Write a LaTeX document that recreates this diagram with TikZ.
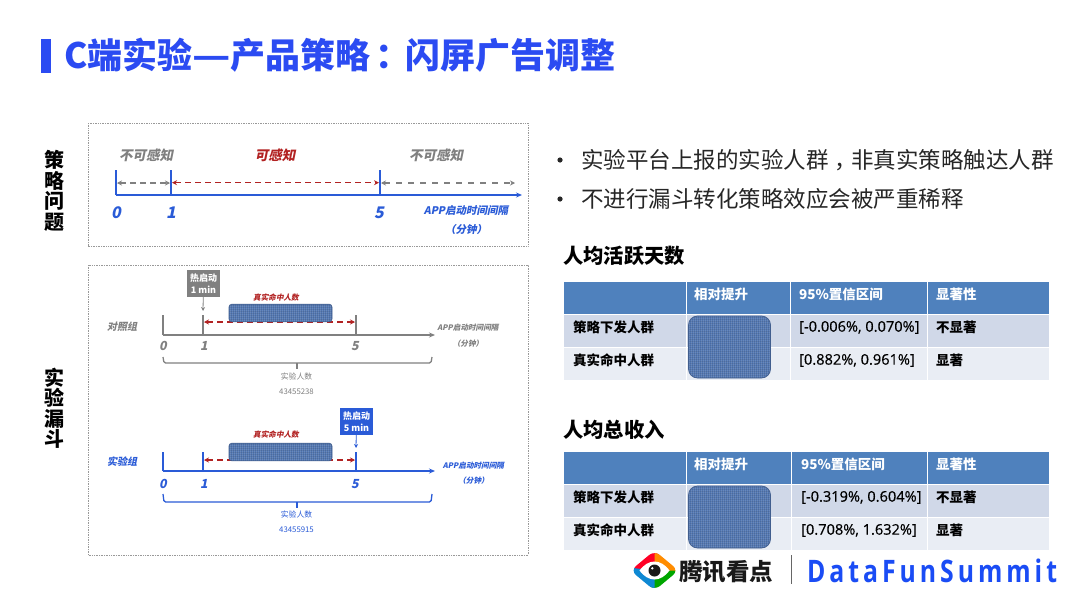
\documentclass[tikz,border=0pt]{standalone}
\usepackage{fontspec}
\setmainfont{Noto Sans CJK SC}
\newfontfamily\cjkit[FakeSlant=0.2]{Noto Sans CJK SC}
\newfontfamily\latinf{Open Sans}
\newfontfamily\valf[FakeBold=0.5]{Open Sans}
\usetikzlibrary{arrows.meta,calc}
\definecolor{tblue}{HTML}{2B4BF2}
\definecolor{axblue}{HTML}{2A5BD7}
\definecolor{axgray}{HTML}{808080}
\definecolor{dred}{HTML}{B22222}
\definecolor{thead}{HTML}{4F81BD}
\definecolor{trow1}{HTML}{D0D8E8}
\definecolor{trow2}{HTML}{E9EDF4}
\definecolor{texc}{HTML}{5176B2}
\definecolor{logob}{HTML}{1A4CF5}
\tikzset{
 x=1pt,y=-1pt,
 frame/.style={draw=gray!80,densely dotted,line width=.7pt},
 axis/.style={line width=1.4pt,-{Stealth[length=6pt,width=5pt]}},
 tickl/.style={line width=1.4pt},
 span/.style={dashed,dash pattern=on 6pt off 4pt,line width=1.4pt,{Stealth[length=5pt,width=5pt]}-{Stealth[length=5pt,width=5pt]}},
 lab/.style={inner sep=0pt,font=\cjkit\bfseries\fontsize{13.5}{13.5}\selectfont},
 num/.style={inner sep=0pt,font=\cjkit\bfseries\fontsize{16}{16}\selectfont},
 numb/.style={inner sep=0pt,font=\cjkit\bfseries\fontsize{12.5}{12.5}\selectfont},
 grp/.style={inner sep=0pt,font=\cjkit\bfseries\fontsize{10}{10}\selectfont},
 app/.style={inner sep=0pt,font=\cjkit\bfseries\fontsize{10.5}{10.5}\selectfont},
 small/.style={inner sep=0pt,font=\cjkit\bfseries\fontsize{7.6}{8}\selectfont},
 tiny/.style={inner sep=0pt,font=\fontsize{7.8}{8}\selectfont},
 side/.style={inner sep=0pt,font=\bfseries\fontsize{20}{20.5}\selectfont,align=center,text width=20pt},
 heat/.style={inner sep=0pt,minimum width=33pt,minimum height=27pt,text=white,align=center,font=\bfseries\fontsize{9}{11.7}\selectfont},
 cell/.style={inner sep=0pt,anchor=west,font=\bfseries\fontsize{13.5}{13.5}\selectfont},
 hcell/.style={cell,text=white},
 val/.style={inner sep=0pt,anchor=west,font=\valf\fontsize{14.6}{14.6}\selectfont},
 h2/.style={inner sep=0pt,anchor=west,font=\bfseries\fontsize{20.3}{20.3}\selectfont},
 bul/.style={inner sep=0pt,anchor=west,font=\fontsize{22.5}{22.5}\selectfont,text=black!85},
 texbox/.style={draw=texc!80!black,line width=.7pt,fill=texc,inner sep=0pt,
  path picture={
   \begin{scope}[shift={(path picture bounding box.center)}]
   \foreach \q in {-60,-58,...,60}{\draw[white,opacity=.14,line width=.5pt] (\q,-40) -- (\q,40);}
   \foreach \q in {-40,-38,...,40}{\draw[black,opacity=.09,line width=.5pt] (-60,\q) -- (60,\q);}
   \end{scope}}},
}
\newcommand{\tableat}[8]{%
 \fill[thead] (564,#1) rectangle (1049,{#1+32});
 \fill[trow1] (564,{#1+33}) rectangle (1049,{#1+65});
 \fill[trow2] (564,{#1+65}) rectangle (1049,{#1+98});
 \draw[white,line width=.8pt] (686,#1) -- (686,{#1+98});
 \draw[white,line width=.8pt] (#2,#1) -- (#2,{#1+98});
 \draw[white,line width=.8pt] (927.5,#1) -- (927.5,{#1+98});
 \draw[white,line width=.8pt] (564,{#1+32.5}) -- (1049,{#1+32.5});
 \draw[white,line width=.8pt] (564,{#1+65}) -- (1049,{#1+65});
 \node[hcell] (#8a) at (694,{#1+12.5}) {相对提升};
 \node[hcell] (#8b) at (#7,{#1+12.5}) {95\%置信区间};
 \node[hcell] (#8c) at (936,{#1+12.5}) {显著性};
 \node[cell] (#8d) at (573,{#1+45.5}) {策略下发人群};
 \node[cell] (#8e) at (573,{#1+78.5}) {真实命中人群};
 \node[val] (#8f) at (#7,{#1+45.5}) {#3};
 \node[val] (#8g) at (#7,{#1+78.5}) {#4};
 \node[cell] (#8h) at (936,{#1+45.5}) {#5};
 \node[cell] (#8i) at (936,{#1+78.5}) {#6};
 \node[texbox,rounded corners=9pt,minimum width=82pt,minimum height=62pt] (#8t) at (729.5,{#1+65}) {};
}
\begin{document}
\begin{tikzpicture}
\useasboundingbox (0,0) rectangle (1080,608);
\fill[white] (0,0) rectangle (1080,608);
% title
\fill[tblue] (41,39) rectangle (51,73);
\node[inner sep=0pt,anchor=west,text=tblue,font=\bfseries\fontsize{35}{35}\selectfont] (title) at (64,55) {C端实验\scalebox{1.2}[1]{—}产品策略\hspace{5pt}：\hspace{-5pt}闪屏广告调整};
% side labels
\node[side] (s1) at (54,191) {策\\略\\问\\题};
\node[side] (s2) at (54,408) {实\\验\\漏\\斗};
% frames
\draw[frame] (88,123) rectangle (528,246);
\draw[frame] (88,265) rectangle (528,555);
% top timeline
\coordinate (t0) at (116,195);\coordinate (t1) at (171,195);\coordinate (t5) at (380,195);
\coordinate (tend) at (522,195);
\draw[axis,axblue] (t0) -- (tend);
\foreach \c in {t0,t1,t5}\draw[tickl,axblue] (\c) -- ++(0,-25);
\draw[span,axgray] ($(t0)+(1,-12)$) -- ($(t1)+(-1,-12)$);
\draw[span,dred] ($(t1)+(1,-12.3)$) -- ($(t5)+(-1,-12.3)$);
\draw[span,axgray,dash pattern=on 6pt off 6pt] ($(t5)+(1,-12)$) -- (515,183);
\node[lab,text=axgray] (a1) at (146,155) {不可感知};
\node[lab,text=dred] (a2) at (275,155) {可感知};
\node[lab,text=axgray] (a3) at (436,155) {不可感知};
\node[num,text=axblue] (n0) at (116,213) {0};
\node[num,text=axblue] (n1) at (171,213) {1};
\node[num,text=axblue] (n5) at (379,213) {5};
\node[app,text=axblue] (ap) at (466,211) {APP启动时间间隔};
\node[app,text=axblue] (am) at (466,230) {（分钟）};
% control
\coordinate (c0) at (163,335);\coordinate (c1) at (203,335);\coordinate (c5) at (356,335);\coordinate (cend) at (435,335);
\draw[axis,axgray,line width=1.2pt] (c0) -- (cend);
\foreach \c in {c0,c1,c5}\draw[tickl,axgray,line width=1.2pt] (\c) -- ++(0,-20);
\node[heat,fill=axgray] (hc) at (203.5,283.5) {热启动\\1 min};
\draw[axgray,line width=.8pt,-{Stealth[length=4pt,width=4pt]}] (hc) -- ($(c1)+(0,-24)$);
\draw[span,dred] ($(c1)+(1,-13)$) -- ($(c5)+(-1,-13)$);
\node[texbox,rounded corners=3pt,minimum width=103pt,minimum height=17.7pt] (bc) at (280.5,313) {};
\node[small,text=dred] (rc) at (276,298) {真实命中人数};
\node[grp,text=axgray] (gc) at (122,327) {对照组};
\node[numb,text=axgray] (c0l) at (163,346) {0};
\node[numb,text=axgray] (c1l) at (204,346) {1};
\node[numb,text=axgray] (c5l) at (355,346) {5};
\node[small,text=axgray] (cap) at (468,328) {APP启动时间间隔};
\node[small,text=axgray] (cam) at (468,344) {（分钟）};
\draw[axgray,line width=1.3pt,rounded corners=1.5pt] (163,357) -- (164,363) -- (431,363) -- (432,357);
\draw[axgray,line width=1.3pt] (297,363) -- (297,369);
\node[tiny,text=axgray] (cx) at (296.5,376.5) {实验人数};
\node[tiny,text=axgray] (cn) at (296.5,391.5) {43455238};
% experiment
\coordinate (e0) at (163,471);\coordinate (e1) at (203,471);\coordinate (e5) at (356,471);\coordinate (eend) at (435,471);
\draw[axis,axblue,line width=1.2pt] (e0) -- (eend);
\foreach \c in {e0,e1,e5}\draw[tickl,axblue,line width=1.2pt] (\c) -- ++(0,-19);
\node[heat,fill=axblue] (he) at (356.5,421.5) {热启动\\5 min};
\draw[axblue,line width=.8pt,-{Stealth[length=4pt,width=4pt]}] (he) -- ($(e5)+(0,-23)$);
\draw[span,dred] ($(e1)+(1,-11)$) -- ($(e5)+(-1,-11)$);
\node[texbox,rounded corners=3pt,minimum width=103pt,minimum height=17.7pt] (be) at (280.5,452) {};
\node[small,text=dred] (re) at (276,435) {真实命中人数};
\node[grp,text=axblue] (ge) at (122,462) {实验组};
\node[numb,text=axblue] (e0l) at (163,484) {0};
\node[numb,text=axblue] (e1l) at (204,484) {1};
\node[numb,text=axblue] (e5l) at (355,484) {5};
\node[small,text=axblue] (eap) at (473.5,466) {APP启动时间间隔};
\node[small,text=axblue] (eam) at (473.5,481) {（分钟）};
\draw[axblue,line width=1.3pt,rounded corners=1.5pt] (163,494) -- (164,502) -- (431,502) -- (432,494);
\draw[axblue,line width=1.3pt] (297,502) -- (297,508);
\node[tiny,text=axblue] (ex) at (296.5,515) {实验人数};
\node[tiny,text=axblue] (en) at (296.5,530) {43455915};
% bullets
\fill[black!85] (560,160) circle (2.6pt);
\fill[black!85] (560,199) circle (2.6pt);
\node[bul] (b1) at (581,160) {实验平台上报的实验人群\hspace{6pt}，\hspace{-6pt}非真实策略触达人群};
\node[bul] (b2) at (581,199) {不进行漏斗转化策略效应会被严重稀释};
% tables
\node[h2] (h1) at (563,256) {人均活跃天数};
\tableat{282}{790.5}{[-0.006\%, 0.070\%]}{[0.882\%, 0.961\%]}{不显著}{显著}{799}{p}
\node[h2] (h3) at (563,430) {人均总收入};
\tableat{452}{791.5}{[-0.319\%, 0.604\%]}{[0.708\%, 1.632\%]}{不显著}{显著}{801}{q}
% logo
\begin{scope}[shift={(654.5,570.5)}]
 \begin{scope}
 \clip[rounded corners=7pt] (-24,0) -- (0,-20) -- (24,0) -- (0,20) -- cycle;
 \fill[red!85!magenta] (-26,-2) -- (0,-22) -- (6,-22) -- (0,0) -- cycle;
 \fill[orange!90!yellow] (0,-22) -- (26,-2) -- (26,2) -- (0,0) -- cycle;
 \fill[green!65!black] (26,0) -- (0,22) -- (-6,22) -- (0,0) -- cycle;
 \fill[cyan!70!blue] (-26,-3) -- (0,0) -- (0,22) -- (-26,2) -- cycle;
 \end{scope}
 \fill[white] (-15,0) .. controls (-6,-12) and (6,-12) .. (15,0) .. controls (6,12) and (-6,12) .. (-15,0) -- cycle;
 \fill[black!90] (0,0) circle (6pt);
 \fill[white] (-2.2,-2.2) circle (1.3pt);
\end{scope}
\node[inner sep=0pt,anchor=west,text=black!90,font=\bfseries\fontsize{23.5}{24}\selectfont] (tx) at (679,572) {腾讯看点};
\draw[gray!80!black,line width=.9pt] (791.5,555) -- (791.5,584);
\node[inner sep=0pt,anchor=west,text=logob,xscale=.8,transform shape,font=\latinf\bfseries\fontsize{31}{31}\selectfont] (df) at (807,570.5) {\addfontfeatures{LetterSpace=16}DataFunSummit};
\end{tikzpicture}
\end{document}
